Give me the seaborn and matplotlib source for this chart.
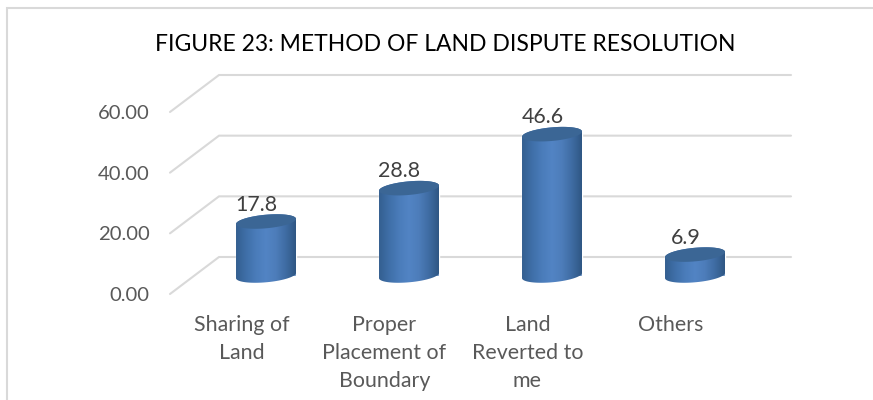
import numpy as np
import pandas as pd
import seaborn as sns
import matplotlib.pyplot as plt
from matplotlib.colors import LinearSegmentedColormap
from matplotlib.patches import Polygon, Rectangle

# =========================
# DATA
# =========================
categories = ["Sharing of\nLand", "Proper\nPlacement of\nBoundary", "Land\nReverted to\nme", "Others"]
values = [17.8, 28.8, 46.6, 6.9]
y_ticks = [0, 20, 40, 60]
title_text = "FIGURE 23: METHOD OF LAND DISPUTE RESOLUTION"

df = pd.DataFrame({"method": categories, "value": values})

# =========================
# THEME
# =========================
sns.set_theme(style="white")
plt.rcParams["font.family"] = ["Lato", "DejaVu Sans"]

W, H = 873, 400
fig = plt.figure(figsize=(W / 100, H / 100), dpi=100)
ax = fig.add_axes([170 / W, (H - 294) / H, 572 / W, 182 / H])

# pixel sizes in data units
PX_X = 4 / 572
PX_Y = 60 / 182
DEPTH_X, DEPTH_Y = 49 * PX_X, 37 * PX_Y

# =========================
# 3D FLOOR / WALL GRID
# =========================
for t in y_ticks:
    ax.plot([-0.5, -0.5 + DEPTH_X, 3.5 + DEPTH_X], [t, t + DEPTH_Y, t + DEPTH_Y],
            color="#d9d9d9", lw=1.5, clip_on=False, zorder=1)

# =========================
# BARS (cylinders built on the seaborn bars)
# =========================
sns.barplot(data=df, x="method", y="value", color="#4a7ab5", width=60 * PX_X,
            saturation=1, ax=ax, zorder=2)

cmap = LinearSegmentedColormap.from_list(
    "cyl", ["#345f90", "#3f6fa8", "#4a7cba", "#5284c4", "#4d7dba", "#3f6ca3", "#2f5784"])
grad = np.linspace(0, 1, 128).reshape(1, -1)
t = np.linspace(0, 2 * np.pi, 100)

def ellipse(cx, cy, a=30, b=6.8, s=2.6):
    # tilted ellipse, right side sits higher
    return np.c_[cx + a * np.cos(t) * PX_X, cy + (b * np.sin(t) + s * np.cos(t)) * PX_Y]

for bar, val in zip(ax.patches, values):
    bar.set_x(bar.get_x() + DEPTH_X / 2)
    bar.set_y(DEPTH_Y / 2)
    bar.set_clip_on(False)
    x0, w = bar.get_x(), bar.get_width()
    cx = x0 + w / 2
    base = DEPTH_Y / 2
    top = base + val

    low = ellipse(cx, base)
    up = ellipse(cx, top)
    lower_half = low[(t >= np.pi)]
    upper_half = up[(t <= np.pi)]
    body = Polygon(np.r_[lower_half, upper_half], closed=True, transform=ax.transData)
    img = ax.imshow(grad, cmap=cmap, extent=[x0, x0 + w, base - 10, top + 10],
                    aspect="auto", zorder=3, interpolation="bilinear")
    img.set_clip_path(body)
    ax.add_patch(Polygon(up, closed=True, facecolor="#3b6695", edgecolor="none",
                         zorder=4, clip_on=False))
    ax.text(cx - 9.5 * PX_X, top + 17 * PX_Y, f"{val:g}", ha="center", va="center",
            fontsize=15.4, color="#404040", zorder=5, clip_on=False)

# =========================
# AXES
# =========================
ax.set_xlim(-0.5, 3.5)
ax.set_ylim(0, 60)
ax.set_yticks(y_ticks)
ax.set_yticklabels([f"{v:.2f}" for v in y_ticks])
ax.tick_params(axis="y", length=0, pad=14.5, labelsize=14.6, labelcolor="#595959")
ax.tick_params(axis="x", length=0, pad=15, labelsize=15.4, labelcolor="#595959")
for lab in ax.get_xticklabels():
    lab.set_linespacing(1.5)
ax.set_xlabel("")
ax.set_ylabel("")
sns.despine(ax=ax, left=True, bottom=True)
ax.patch.set_visible(False)

# =========================
# TITLE + OUTER FRAME
# =========================
fig.text(445 / W, (H - 44.5) / H, title_text, ha="center", va="center",
         fontsize=16.5, color="black")
fig.add_artist(Rectangle((6.5 / W, -0.01), 1.1, (H - 8) / H + 0.01, transform=fig.transFigure,
                         facecolor="none", edgecolor="#d9d9d9", lw=1.5))

fig.savefig("out.png", dpi=100)
